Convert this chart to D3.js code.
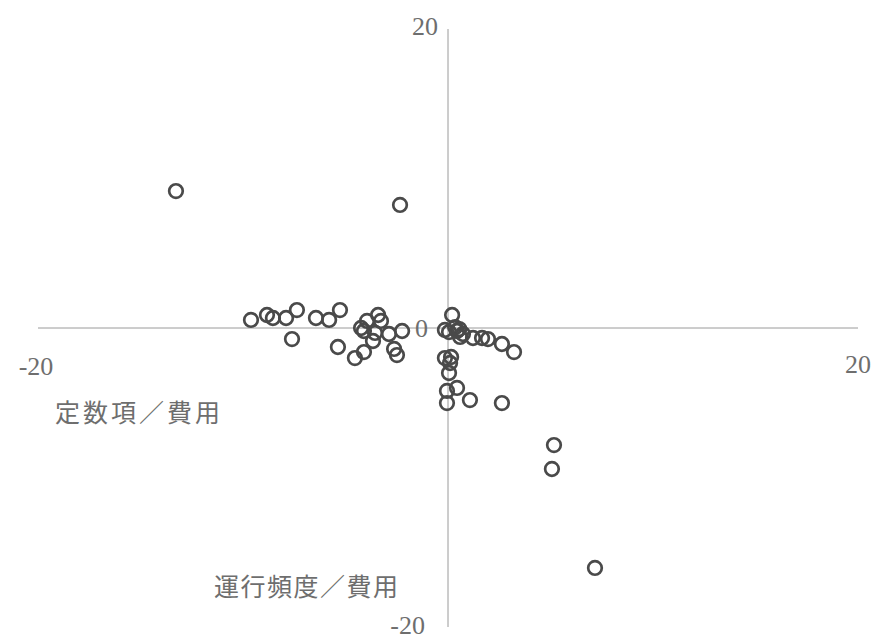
<!DOCTYPE html>
<html>
<head>
<meta charset="utf-8">
<script src="https://cdn.jsdelivr.net/npm/d3@7"></script>
<style>
  html, body { margin: 0; padding: 0; background: #fff; }
  svg { display: block; }
</style>
</head>
<body>
<svg id="chart" width="875" height="640"></svg>
<script>
// Coefficient ratios: constant term / cost (x) vs. service frequency / cost (y)
const xValues = [
  -13.27, -2.34, 5.17, 5.07, 7.17,
  -9.61, -8.83, -8.54, -7.90, -7.37, -7.61, -6.44, -5.80, -5.27, -5.37,
  -3.95, -3.41, -3.27, -4.24, -4.10, -3.56, -2.88, -2.24, -3.66, -4.10, -4.54, -2.63, -2.49,
  0.20, -0.15, 0.05, 0.44, 0.73, 0.59, 1.22, 1.66, 1.95, 2.63, 3.22,
  -0.15, 0.15, 0.10, 0.05, -0.05, 0.44, -0.05, 1.07, 2.63, 0.35, 0.55
];
const yValues = [
  9.16, 8.23, -7.83, -9.43, -16.05,
  0.54, 0.87, 0.67, 0.67, 1.20, -0.74, 0.67, 0.54, 1.20, -1.27,
  0.47, 0.87, 0.47, 0.00, -0.20, -0.33, -0.40, -0.20, -0.87, -1.61, -2.01, -1.40, -1.81,
  0.87, -0.13, -0.27, -0.20, -0.40, -0.60, -0.67, -0.67, -0.74, -1.07, -1.61,
  -2.01, -1.94, -2.34, -3.01, -4.21, -4.01, -5.02, -4.82, -5.02, 0.05, -0.07
];
const axisMin = -20;
const axisMax = 20;
const xTitle = "定数項／費用";
const yTitle = "運行頻度／費用";

const points = xValues.map((x, i) => ({ x, y: yValues[i] }));

const svg = d3.select("#chart");
const x = d3.scaleLinear().domain([axisMin, axisMax]).range([38, 858]);
const y = d3.scaleLinear().domain([axisMin, axisMax]).range([627, 29]);

const axisColor = "#9a9a9a";
const textColor = "#6e6e6e";
const serif = "'Liberation Serif', 'DejaVu Serif', serif";
const cjk = "'Noto Sans CJK JP', 'Noto Sans CJK SC', sans-serif";

// Cross-shaped axes through the origin
svg.append("line")
  .attr("x1", x(axisMin)).attr("x2", x(axisMax))
  .attr("y1", y(0)).attr("y2", y(0))
  .attr("stroke", axisColor).attr("stroke-width", 1);
svg.append("line")
  .attr("x1", x(0)).attr("x2", x(0))
  .attr("y1", y(axisMax)).attr("y2", y(axisMin))
  .attr("stroke", axisColor).attr("stroke-width", 1);

// End-of-axis labels
const labels = svg.append("g")
  .attr("font-family", serif)
  .attr("font-size", 26)
  .attr("fill", textColor);
labels.append("text")
  .attr("x", x(axisMin) - 2).attr("y", y(0) + 47)
  .attr("text-anchor", "middle").text(String(axisMin));
labels.append("text")
  .attr("x", x(axisMax)).attr("y", y(0) + 45)
  .attr("text-anchor", "middle").text(String(axisMax));
labels.append("text")
  .attr("x", x(0) - 10).attr("y", y(axisMax) + 6)
  .attr("text-anchor", "end").text(String(axisMax));
labels.append("text")
  .attr("x", x(0) - 23).attr("y", y(axisMin) + 7)
  .attr("text-anchor", "end").text(String(axisMin));
labels.append("text")
  .attr("x", x(0) - 20).attr("y", y(0) + 9)
  .attr("text-anchor", "end").text("0");

// Axis titles
const titles = svg.append("g")
  .attr("font-family", cjk)
  .attr("font-size", 25)
  .attr("fill", textColor);
titles.append("text")
  .attr("x", 55).attr("y", 422)
  .attr("letter-spacing", 3)
  .text(xTitle);
titles.append("text")
  .attr("x", 214).attr("y", 596)
  .attr("letter-spacing", 1.5)
  .text(yTitle);

// Observations as hollow circles
svg.append("g")
  .selectAll("circle")
  .data(points)
  .join("circle")
  .attr("cx", d => x(d.x))
  .attr("cy", d => y(d.y))
  .attr("r", 6.8)
  .attr("fill", "none")
  .attr("stroke", "#4a4a4a")
  .attr("stroke-width", 2.7);
</script>
</body>
</html>
